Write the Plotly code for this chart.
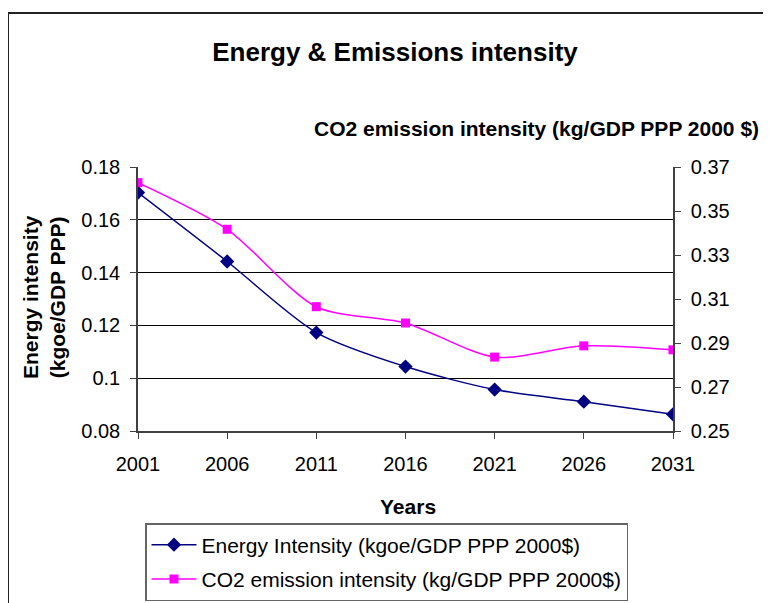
import plotly.graph_objects as go

# ---- data ----
years = [2001, 2006, 2011, 2016, 2021, 2026, 2031]
energy_intensity = [0.1703, 0.1442, 0.1173, 0.1044, 0.0957, 0.0911, 0.0863]
co2_intensity = [0.3629, 0.3417, 0.3065, 0.2991, 0.2836, 0.2887, 0.2869]
left_tick_vals = [0.08, 0.10, 0.12, 0.14, 0.16, 0.18]
left_tick_text = ["0.08", "0.1", "0.12", "0.14", "0.16", "0.18"]
right_tick_vals = [0.25, 0.27, 0.29, 0.31, 0.33, 0.35, 0.37]
right_tick_text = ["0.25", "0.27", "0.29", "0.31", "0.33", "0.35", "0.37"]
year_labels = [str(y) for y in years]

FONT = "Liberation Sans, Arial, sans-serif"
OFF = 8  # page body margin
W, H = 771 - OFF, 603 - OFF
# plot area in page pixels: x 138..673, y 167..431
L = 138 - OFF
T = 167 - OFF
R = W - (673 - OFF)
B = H - (431 - OFF)
PW = W - L - R
PH = H - T - B


def px_x(px):
    return (px - OFF - L) / PW


def px_y(py):
    return (H - B - (py - OFF)) / PH


fig = go.Figure()
fig.add_trace(go.Scatter(
    x=years, y=energy_intensity, name="Energy Intensity (kgoe/GDP PPP 2000$)",
    legendgroup="e",
    mode="lines+markers", line=dict(color="#000080", width=1.5, shape="spline", smoothing=0.8),
    marker=dict(symbol="diamond", size=11, color="#000080"), yaxis="y"))
fig.add_trace(go.Scatter(
    x=years, y=co2_intensity, name="CO2 emission intensity (kg/GDP PPP 2000$)",
    legendgroup="c",
    mode="lines+markers", line=dict(color="#FF00FF", width=1.5, shape="spline", smoothing=0.8),
    marker=dict(symbol="square", size=9, color="#FF00FF"), yaxis="y2"))

axis_col = "#404040"
fig.update_layout(
    width=W, height=H,
    margin=dict(l=L, r=R, t=T, b=B, autoexpand=False),
    paper_bgcolor="white", plot_bgcolor="white",
    font=dict(family=FONT, size=20, color="black"),
    showlegend=True,
    title=dict(text="<b>Energy & Emissions intensity</b>", x=(395 - OFF) / W, xanchor="center",
               y=1 - (52 - OFF) / H, yanchor="middle", xref="container", yref="container",
               font=dict(family=FONT, size=26, color="black")),
    xaxis=dict(range=[2001, 2031], tickvals=years, ticktext=year_labels,
               showgrid=False, zeroline=False, showline=True, linecolor=axis_col, linewidth=1.5,
               ticks="outside", ticklen=6, tickcolor=axis_col, tickfont=dict(size=20),
               ticklabelstandoff=8),
    yaxis=dict(range=[0.08, 0.18], tickvals=left_tick_vals, ticktext=left_tick_text,
               showgrid=True, gridcolor="black", gridwidth=1, zeroline=False,
               showline=True, linecolor=axis_col, linewidth=1.5,
               ticks="outside", ticklen=6, tickcolor=axis_col, tickfont=dict(size=20),
               ticklabelstandoff=6),
    yaxis2=dict(range=[0.25, 0.37], tickvals=right_tick_vals, ticktext=right_tick_text,
                overlaying="y", side="right", showgrid=False, zeroline=False,
                showline=True, linecolor=axis_col, linewidth=1.5,
                ticks="outside", ticklen=6, tickcolor=axis_col, tickfont=dict(size=20),
                ticklabelstandoff=6),
    legend=dict(x=px_x(145), y=px_y(523), xanchor="left", yanchor="top",
                bgcolor="white", bordercolor="#666666", borderwidth=1.5,
                font=dict(family=FONT, size=21, color="black"),
                itemwidth=45, tracegroupgap=4),
)

fig.add_annotation(text="<b>CO2 emission intensity (kg/GDP PPP 2000 $)</b>",
                   x=px_x(536), y=px_y(128), xref="paper", yref="paper",
                   xanchor="center", yanchor="middle",
                   showarrow=False, font=dict(size=21, family=FONT))
fig.add_annotation(text="<b>Energy intensity<br>(kgoe/GDP PPP)</b>",
                   x=px_x(44), y=px_y(297), xref="paper", yref="paper",
                   xanchor="center", yanchor="middle",
                   textangle=-90, showarrow=False, font=dict(size=21, family=FONT))
fig.add_annotation(text="<b>Years</b>",
                   x=px_x(408), y=px_y(506), xref="paper", yref="paper",
                   xanchor="center", yanchor="middle",
                   showarrow=False, font=dict(size=21, family=FONT))

# outer chart frame
fig.add_shape(type="rect", xref="paper", yref="paper",
              x0=px_x(8), y0=px_y(13), x1=px_x(900), y1=px_y(700),
              line=dict(color="#222222", width=2), fillcolor="rgba(0,0,0,0)", layer="below")

fig.write_html("out.html")
